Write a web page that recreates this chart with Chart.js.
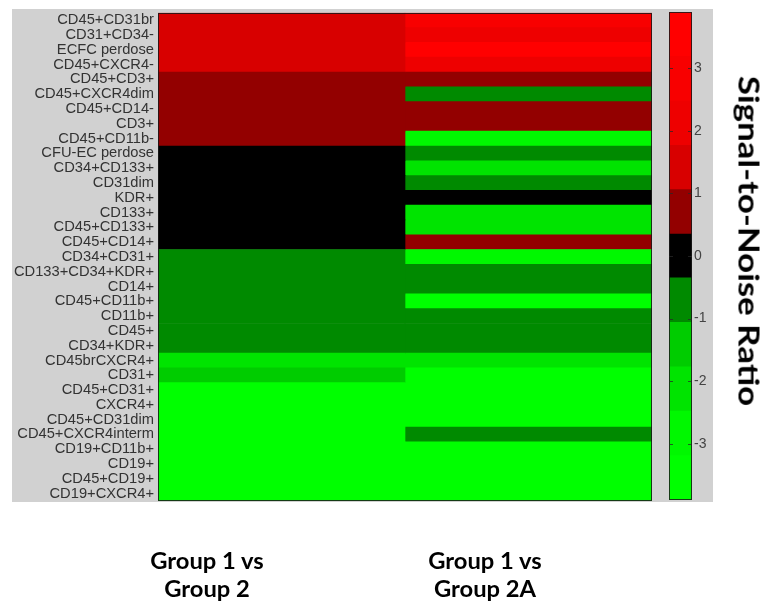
<!DOCTYPE html>
<html>
<head>
<meta charset="utf-8">
<script src="https://cdn.jsdelivr.net/npm/chart.js@4.4.1/dist/chart.umd.min.js"></script>
<style>
    body { margin: 0; width: 769px; height: 606px; overflow: hidden; position: relative; background: #fff; }
    #panel { position: absolute; left: 12px; top: 9px; width: 701px; height: 493px; background: #d1d1d1; }
    canvas { position: absolute; left: 0; top: 0; }
    .grp { position: absolute; top: 547px; width: 200px; text-align: center; font: bold 22px Lato, sans-serif; line-height: 28px; color: #000; transform: scaleX(1.08); }
    #cbtitle { position: absolute; left: 750px; top: 241px; transform: translate(-50%, -50%) rotate(90deg) scaleX(1.2); white-space: nowrap; font: bold 29px Lato, sans-serif; color: #000; }
</style>
</head>
<body>
<div id="panel"></div>
<canvas id="heat" width="769" height="606"></canvas>
<canvas id="cbar" width="769" height="606"></canvas>
<div class="grp" style="left:107px">Group 1 vs<br>Group 2</div>
<div class="grp" style="left:385px">Group 1 vs<br>Group 2A</div>
<div id="cbtitle">Signal-to-Noise Ratio</div>
<script>
const rowLabels = [
    'CD45+CD31br', 'CD31+CD34-', 'ECFC perdose', 'CD45+CXCR4-', 'CD45+CD3+',
    'CD45+CXCR4dim', 'CD45+CD14-', 'CD3+', 'CD45+CD11b-', 'CFU-EC perdose',
    'CD34+CD133+', 'CD31dim', 'KDR+', 'CD133+', 'CD45+CD133+', 'CD45+CD14+',
    'CD34+CD31+', 'CD133+CD34+KDR+', 'CD14+', 'CD45+CD11b+', 'CD11b+', 'CD45+',
    'CD34+KDR+', 'CD45brCXCR4+', 'CD31+', 'CD45+CD31+', 'CXCR4+', 'CD45+CD31dim',
    'CD45+CXCR4interm', 'CD19+CD11b+', 'CD19+', 'CD45+CD19+', 'CD19+CXCR4+'
];
const groupLabels = ['Group 1 vs Group 2', 'Group 1 vs Group 2A'];

// signal-to-noise per marker, one array per comparison
const snrGroup2 = [
    1.4, 1.4, 1.4, 1.4,
    0.7, 0.7, 0.7, 0.7, 0.7,
    0, 0, 0, 0, 0, 0, 0,
    -0.7, -0.7, -0.7, -0.7, -0.7, -0.7, -0.7,
    -2.1, -1.4,
    -3.5, -3.5, -3.5, -3.5, -3.5, -3.5, -3.5, -3.5
];
const snrGroup2A = [
    2.9, 2.1, 3.5, 2.2,
    0.7, -0.7, 0.7, 0.7,
    -2.7, -0.7, -2.2, -0.7, 0.0, -2.2, -2.2, 0.7, -2.7,
    -0.7, -0.7, -3.4, -0.7, -0.7, -0.7,
    -2.1,
    -3.4, -3.4, -3.4, -3.4,
    -0.8,
    -3.5, -3.5, -3.5, -3.5
];

// colormap levels (colorbar)
const levelEdges = [-3.9, -3.19, -2.48, -1.77, -1.06, -0.35, 0.35, 1.06, 1.77, 2.48, 3.19, 3.9];
const levelColors = ['#00ff00', '#00f800', '#00e400', '#00cc00', '#008a00', '#000000',
                     '#930000', '#d80000', '#ee0000', '#f80000', '#ff0000'];
const cbTicks = [-3, -2, -1, 0, 1, 2, 3];

function colorFor(v) {
    for (let i = 0; i < levelColors.length; i++) {
        if (v < levelEdges[i + 1]) return levelColors[i];
    }
    return levelColors[levelColors.length - 1];
}

const frame = {
    id: 'frame',
    afterDraw(chart) {
        const a = chart.chartArea;
        const ctx = chart.ctx;
        ctx.save();
        ctx.strokeStyle = 'rgba(25,25,25,0.85)';
        ctx.lineWidth = 1;
        ctx.strokeRect(Math.round(a.left) + 0.5, Math.round(a.top) + 0.5,
                       Math.round(a.right - a.left) - 1, Math.round(a.bottom - a.top) - 1);
        ctx.restore();
    }
};

// small inner tick marks on both sides of the colorbar
const innerTicks = {
    id: 'innerTicks',
    afterDraw(chart) {
        const a = chart.chartArea;
        const ctx = chart.ctx;
        const scale = chart.scales.y;
        ctx.save();
        ctx.strokeStyle = 'rgba(40,40,40,0.75)';
        ctx.lineWidth = 1;
        ctx.beginPath();
        cbTicks.forEach(v => {
            const y = Math.round(scale.getPixelForValue(v)) + 0.5;
            ctx.moveTo(a.left, y); ctx.lineTo(a.left + 4, y);
            ctx.moveTo(a.right - 4, y); ctx.lineTo(a.right, y);
        });
        ctx.stroke();
        ctx.restore();
    }
};

new Chart(document.getElementById('heat'), {
    type: 'bar',
    data: {
        labels: rowLabels,
        datasets: [snrGroup2, snrGroup2A].map((vals, ci) => ({
            label: groupLabels[ci],
            data: vals.map(() => [ci, ci + 1]),
            backgroundColor: vals.map(colorFor),
            borderWidth: 0,
            barPercentage: 1,
            categoryPercentage: 1,
            grouped: false
        }))
    },
    options: {
        indexAxis: 'y',
        responsive: false,
        animation: false,
        layout: { padding: { left: 12, right: 117, top: 12, bottom: 105 } },
        plugins: { legend: { display: false }, tooltip: { enabled: false } },
        scales: {
            x: { display: false, min: 0, max: 2 },
            y: {
                grid: { display: false, drawTicks: false },
                border: { display: false },
                ticks: {
                    autoSkip: false,
                    padding: 4,
                    color: '#333',
                    font: { family: 'Liberation Sans', size: 14.7 }
                },
                afterFit(s) { s.width = 146; }
            }
        }
    },
    plugins: [frame]
});

new Chart(document.getElementById('cbar'), {
    type: 'bar',
    data: {
        labels: [''],
        datasets: levelColors.map((c, i) => ({
            data: [[levelEdges[i], levelEdges[i + 1]]],
            backgroundColor: c,
            borderWidth: 0,
            barPercentage: 1,
            categoryPercentage: 1,
            grouped: false
        }))
    },
    options: {
        responsive: false,
        animation: false,
        layout: { padding: { left: 669, right: 47, top: 12, bottom: 106 } },
        plugins: { legend: { display: false }, tooltip: { enabled: false } },
        scales: {
            x: { display: false },
            y: {
                position: 'right',
                min: levelEdges[0],
                max: levelEdges[levelEdges.length - 1],
                afterBuildTicks(s) { s.ticks = cbTicks.map(v => ({ value: v })); },
                grid: { display: false, drawTicks: false },
                border: { display: false },
                ticks: {
                    padding: 2,
                    color: '#444',
                    font: { family: 'Liberation Sans', size: 14 }
                },
                afterFit(s) { s.width = 30; }
            }
        }
    },
    plugins: [frame, innerTicks]
});
</script>
</body>
</html>
